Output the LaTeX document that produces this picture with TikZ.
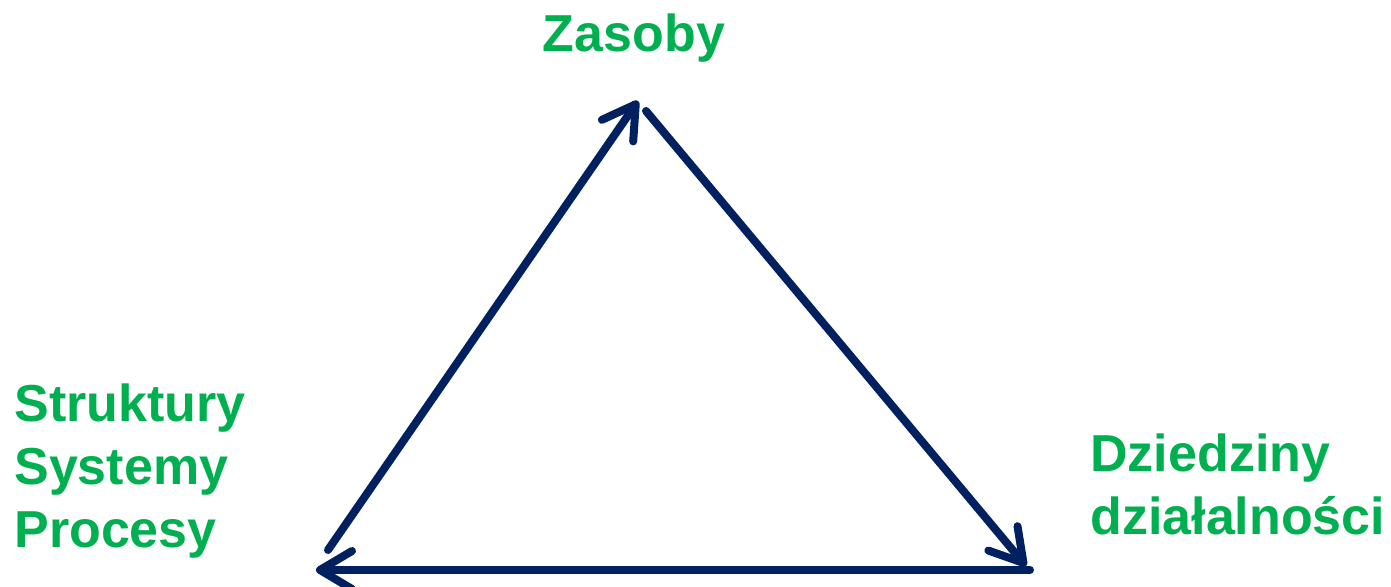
\documentclass[tikz,border=0pt]{standalone}
\usepackage{fontspec}
\setmainfont{Liberation Sans}
\usetikzlibrary{arrows.meta}
\definecolor{navy}{HTML}{002060}
\definecolor{leaf}{HTML}{00B050}
\tikzset{
	side/.style={line width=4pt, navy, -{Straight Barb[length=16pt, width=19pt, round]}, line cap=round},
	label text/.style={font=\fontsize{26}{31.5}\selectfont\bfseries, text=leaf, inner sep=0pt, align=left}
}
\begin{document}
\begin{tikzpicture}[x=0.5pt, y=0.5pt]
			\useasboundingbox (0,0) rectangle (1391,587);
			\node[label text, anchor=base](zasoby) at (634,535){Zasoby};
			\node[label text, anchor=base west](struktury) at (14,39){Struktury\\Systemy\\Procesy};
			\node[label text, anchor=base west](dziedziny) at (1090,52){Dziedziny\\działalności};
			\coordinate (a1) at (328,37);
			\coordinate (a2) at (638,486);
			\coordinate (b1) at (646,476);
			\coordinate (b2) at (1026,21);
			\coordinate (c1) at (1030,17);
			\coordinate (c2) at (316,17);
			\draw[side] (a1) -- (a2);
			\draw[side] (b1) -- (b2);
			\draw[side] (c1) -- (c2);
			\end{tikzpicture}
\end{document}
